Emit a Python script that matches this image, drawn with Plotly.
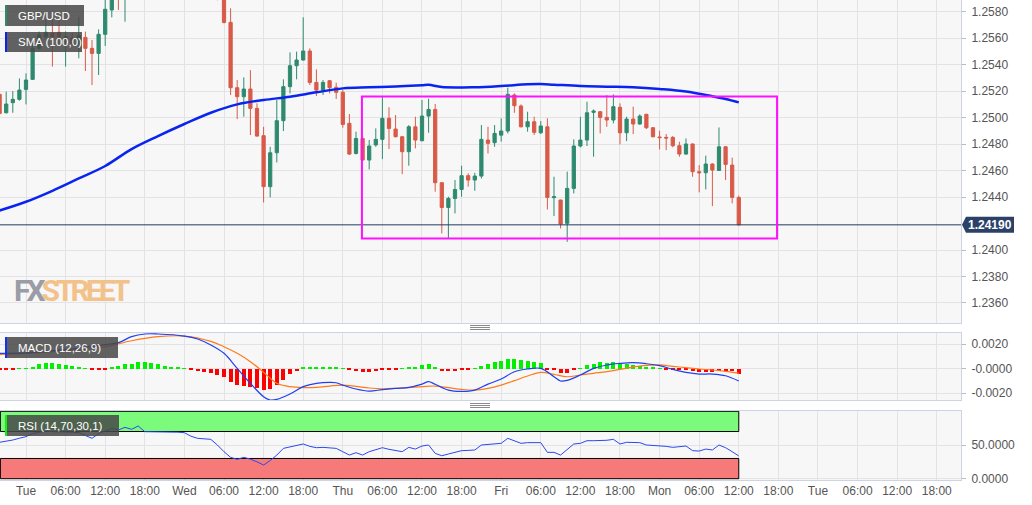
import plotly.graph_objects as go

# ---------------- data ----------------
hours = list(range(-4, 109))  # hourly candles; Tue 00:00 = 0, weekend removed (Mon 00:00 = 96)

opens = [1.25175, 1.25036, 1.25112, 1.25137, 1.25212, 1.25288, 1.25522, 1.25610, 1.25635, 1.25643,
         1.25600, 1.25600, 1.25560, 1.25605, 1.25522, 1.25484, 1.25628, 1.25812, 1.26000, 1.25920,
         1.26000, 1.26030, 1.26100, 1.26040, 1.26060, 1.26030, 1.26050, 1.26020, 1.26040, 1.26010,
         1.25970, 1.25990, 1.25960, 1.25940, 1.25915, 1.25718, 1.25225, 1.25157, 1.25215, 1.25069,
         1.24863, 1.24478, 1.24734, 1.24976, 1.25233, 1.25391, 1.25434, 1.25502, 1.25265, 1.25207,
         1.25278, 1.25228, 1.25190, 1.24956, 1.24729, 1.24842, 1.24679, 1.24793, 1.24835, 1.24994,
         1.24913, 1.24855, 1.24742, 1.24930, 1.24825, 1.25011, 1.25061, 1.24508, 1.24321, 1.24389,
         1.24457, 1.24561, 1.24528, 1.24558, 1.24830, 1.24810, 1.24867, 1.24898, 1.25170, 1.25087,
         1.24930, 1.24968, 1.24885, 1.24930, 1.24395, 1.24377, 1.24201, 1.24465, 1.24785, 1.24830,
         1.25039, 1.25044, 1.25001, 1.24981, 1.25077, 1.24885, 1.24988, 1.24951, 1.25024, 1.24923,
         1.24853, 1.24850, 1.24850, 1.24787, 1.24724, 1.24800, 1.24591, 1.24583, 1.24649, 1.24600,
         1.24779, 1.24641, 1.24397]
highs = [1.25182, 1.25195, 1.25200, 1.25295, 1.25333, 1.25565, 1.25648, 1.25736, 1.25741, 1.25736,
         1.25650, 1.25640, 1.25761, 1.25648, 1.25585, 1.25665, 1.25900, 1.25980, 1.26040, 1.26040,
         1.26060, 1.26120, 1.26150, 1.26090, 1.26110, 1.26080, 1.26100, 1.26070, 1.26090, 1.26040,
         1.26020, 1.26030, 1.26000, 1.25980, 1.25960, 1.25824, 1.25283, 1.25303, 1.25358, 1.25107,
         1.24930, 1.24779, 1.25132, 1.25288, 1.25492, 1.25497, 1.25756, 1.25522, 1.25363, 1.25283,
         1.25283, 1.25263, 1.25207, 1.25026, 1.24893, 1.24860, 1.24830, 1.24918, 1.25157, 1.25077,
         1.25019, 1.24860, 1.24943, 1.25006, 1.25132, 1.25142, 1.25102, 1.24510, 1.24402, 1.24528,
         1.24636, 1.24578, 1.24583, 1.24943, 1.24930, 1.24943, 1.24994, 1.25225, 1.25182, 1.25099,
         1.25044, 1.25006, 1.24973, 1.24994, 1.24553, 1.24380, 1.24591, 1.24835, 1.25006, 1.25119,
         1.25061, 1.25049, 1.25170, 1.25175, 1.25107, 1.25006, 1.25082, 1.25024, 1.25028, 1.24926,
         1.24900, 1.24875, 1.24860, 1.24817, 1.24842, 1.24805, 1.24641, 1.24712, 1.24654, 1.24925,
         1.24785, 1.24697, 1.24410]
lows = [1.25019, 1.25031, 1.25036, 1.25127, 1.25099, 1.25283, 1.25510, 1.25598, 1.25384, 1.25535,
        1.25384, 1.25540, 1.25447, 1.25351, 1.25245, 1.25321, 1.25540, 1.25756, 1.25812, 1.25723,
        1.25960, 1.26000, 1.26010, 1.25980, 1.26010, 1.25990, 1.26000, 1.25980, 1.26000, 1.25940,
        1.25930, 1.25930, 1.25920, 1.25885, 1.25710, 1.25170, 1.24988, 1.25006, 1.24868, 1.24855,
        1.24359, 1.24397, 1.24661, 1.24898, 1.25182, 1.25288, 1.25430, 1.25245, 1.25162, 1.25170,
        1.25182, 1.25140, 1.24923, 1.24717, 1.24721, 1.24671, 1.24608, 1.24779, 1.24686, 1.24762,
        1.24850, 1.24573, 1.24636, 1.24767, 1.24820, 1.24885, 1.24440, 1.24125, 1.24087, 1.24276,
        1.24402, 1.24478, 1.24447, 1.24540, 1.24729, 1.24779, 1.24818, 1.24880, 1.25036, 1.24925,
        1.24893, 1.24868, 1.24875, 1.24306, 1.24256, 1.24163, 1.24062, 1.24427, 1.24775, 1.24785,
        1.24704, 1.24880, 1.24930, 1.24956, 1.24797, 1.24822, 1.24875, 1.24945, 1.24913, 1.24850,
        1.24759, 1.24754, 1.24775, 1.24704, 1.24720, 1.24553, 1.24435, 1.24457, 1.24331, 1.24598,
        1.24528, 1.24352, 1.24185]
closes = [1.25031, 1.25102, 1.25137, 1.25207, 1.25283, 1.25522, 1.25623, 1.25643, 1.25610, 1.25610,
          1.25610, 1.25560, 1.25620, 1.25522, 1.25484, 1.25628, 1.25817, 1.25950, 1.25920, 1.26000,
          1.26030, 1.26100, 1.26040, 1.26060, 1.26030, 1.26050, 1.26020, 1.26040, 1.26010, 1.25970,
          1.25990, 1.25960, 1.25940, 1.25915, 1.25718, 1.25225, 1.25157, 1.25215, 1.25069, 1.24860,
          1.24478, 1.24734, 1.24976, 1.25233, 1.25391, 1.25434, 1.25502, 1.25265, 1.25207, 1.25265,
          1.25225, 1.25190, 1.24948, 1.24724, 1.24842, 1.24679, 1.24785, 1.24835, 1.24994, 1.24918,
          1.24855, 1.24742, 1.24930, 1.24830, 1.25011, 1.25061, 1.24508, 1.24321, 1.24389, 1.24457,
          1.24561, 1.24528, 1.24558, 1.24835, 1.24805, 1.24880, 1.24898, 1.25175, 1.25089, 1.24930,
          1.24968, 1.24888, 1.24936, 1.24397, 1.24402, 1.24196, 1.24465, 1.24785, 1.24830, 1.25036,
          1.25049, 1.25001, 1.24981, 1.25082, 1.24885, 1.24988, 1.24951, 1.25011, 1.24923, 1.24855,
          1.24848, 1.24845, 1.24787, 1.24724, 1.24800, 1.24591, 1.24583, 1.24649, 1.24603, 1.24779,
          1.24646, 1.24397, 1.24190]

sma_hours = [-4, 0, 4, 8, 12, 16, 20, 24, 28, 32, 36, 40, 44, 48, 52, 56, 60, 61, 63, 68,
             72, 76, 78, 80, 84, 88, 92, 96, 100, 104, 106, 108]
sma_values = [1.24298, 1.24364, 1.24447, 1.24540, 1.24634, 1.24762, 1.24860, 1.24951, 1.25036, 1.25099,
              1.25132, 1.25157, 1.25190, 1.25220, 1.25228, 1.25235, 1.25244, 1.25247, 1.25230, 1.25229,
              1.25238, 1.25251, 1.25253, 1.25248, 1.25238, 1.25233, 1.25228, 1.25215, 1.25196, 1.25160,
              1.25140, 1.25114]

last_price = 1.24190
box_hours = [50.9, 113.8]
box_prices = [1.24087, 1.25158]

macd_hours = [-4, 0, 4, 8, 12, 14, 16, 18, 20, 24, 26, 28, 30, 32, 34, 36, 37, 38, 40, 42,
              44, 46, 47, 48, 50, 52, 54, 56, 58, 60, 61, 62, 64, 66, 68, 70, 72, 74, 76, 78,
              80, 81, 82, 84, 86, 88, 90, 92, 94, 96, 98, 100, 102, 104, 106, 108]
macd_values = [0.00124, 0.00127, 0.00146, 0.00167, 0.00195, 0.00211, 0.00260, 0.00282, 0.00282, 0.00265,
               0.00241, 0.00192, 0.00124, 0.00001, -0.00121, -0.00230, -0.00257, -0.00252, -0.00208, -0.00148,
               -0.00121, -0.00113, -0.00116, -0.00135, -0.00167, -0.00184, -0.00172, -0.00162, -0.00154, -0.00127,
               -0.00107, -0.00129, -0.00176, -0.00186, -0.00176, -0.00127, -0.00086, -0.00026, -0.00004, 0.00001,
               -0.00067, -0.00102, -0.00097, -0.00053, 0.00001, 0.00029, 0.00042, 0.00048, 0.00039, 0.00023,
               -0.00007, -0.00031, -0.00045, -0.00045, -0.00059, -0.00102]
signal_hours = [-4, 0, 4, 8, 12, 16, 20, 24, 28, 30, 32, 34, 36, 38, 40, 42, 44, 46, 48, 50,
                52, 54, 56, 58, 60, 62, 64, 66, 68, 70, 72, 74, 76, 78, 80, 82, 84, 86, 88, 90,
                92, 94, 96, 98, 100, 102, 104, 106, 108]
signal_values = [0.00116, 0.00124, 0.00137, 0.00151, 0.00178, 0.00227, 0.00260, 0.00265, 0.00222, 0.00178,
                 0.00124, 0.00056, -0.00030, -0.00121, -0.00148, -0.00156, -0.00154, -0.00143, -0.00135, -0.00146,
                 -0.00159, -0.00165, -0.00162, -0.00156, -0.00148, -0.00143, -0.00156, -0.00170, -0.00176, -0.00162,
                 -0.00135, -0.00099, -0.00061, -0.00031, -0.00048, -0.00067, -0.00053, -0.00039, -0.00026, -0.00007,
                 0.00012, 0.00026, 0.00029, 0.00018, 0.00007, -0.00004, -0.00012, -0.00023, -0.00039]
hist_values = [-0.00004, -0.00004, -0.00004, 0.00004, 0.00004, 0.00015, 0.00034, 0.00042, 0.00042, 0.00034,
               0.00029, 0.00020, 0.00012, 0.00004, -0.00004, -0.00004, -0.00004, 0.00015, 0.00023, 0.00034,
               0.00039, 0.00056, 0.00050, 0.00042, 0.00034, 0.00023, 0.00015, 0.00007, 0.00002, -0.00012,
               -0.00020, -0.00031, -0.00039, -0.00053, -0.00067, -0.00107, -0.00135, -0.00143, -0.00148, -0.00162,
               -0.00176, -0.00167, -0.00135, -0.00094, -0.00048, -0.00018, 0.00012, 0.00015, 0.00015, 0.00015,
               0.00015, 0.00012, 0.00004, -0.00012, -0.00020, -0.00026, -0.00026, -0.00020, -0.00007, -0.00004,
               -0.00004, 0.00004, 0.00015, 0.00015, 0.00029, 0.00039, 0.00007, -0.00018, -0.00020, -0.00018,
               -0.00007, -0.00004, 0.00004, 0.00020, 0.00034, 0.00050, 0.00058, 0.00075, 0.00080, 0.00069,
               0.00061, 0.00053, 0.00042, -0.00004, -0.00012, -0.00039, -0.00034, -0.00007, 0.00004, 0.00029,
               0.00039, 0.00050, 0.00048, 0.00050, 0.00042, 0.00034, 0.00029, 0.00023, 0.00015, 0.00007,
               0.00002, -0.00004, -0.00007, -0.00012, -0.00012, -0.00018, -0.00026, -0.00026, -0.00026, -0.00023,
               -0.00020, -0.00018, -0.00045]

rsi_values = [54.0, 55.5, 57.4, 60.0, 62.4, 67.0, 69.0, 70.7, 69.8, 69.8,
              69.8, 69.0, 68.3, 64.0, 59.9, 67.0, 71.0, 74.7, 72.3, 76.2,
              73.3, 78.2, 69.8, 69.8, 69.8, 69.8, 69.5, 69.0, 68.3, 63.0,
              59.9, 59.5, 58.4, 50.0, 40.0, 31.7, 28.7, 31.7, 29.0, 25.0,
              20.3, 27.0, 35.0, 45.0, 47.5, 49.5, 51.5, 48.0, 46.0, 46.5,
              46.0, 45.0, 40.0, 35.1, 38.6, 35.1, 40.1, 43.0, 46.0, 43.6,
              42.0, 40.1, 46.5, 44.0, 48.5, 50.0, 37.6, 34.1, 36.6, 39.0,
              41.6, 42.0, 42.6, 50.0, 50.5, 51.5, 52.5, 59.9, 56.4, 52.5,
              53.5, 53.5, 53.5, 39.1, 39.1, 35.1, 43.0, 51.5, 52.5, 56.4,
              56.4, 56.4, 57.0, 58.4, 51.5, 54.0, 53.8, 53.5, 50.0, 49.5,
              49.0, 48.0, 46.5, 47.5, 48.5, 41.6, 41.0, 44.0, 42.6, 50.0,
              46.0, 40.1, 33.7]
rsi_upper, rsi_lower = 70, 30

tick_hours = list(range(0, 139, 6))
tick_labels = ["Tue", "06:00", "12:00", "18:00", "Wed", "06:00", "12:00", "18:00",
               "Thu", "06:00", "12:00", "18:00", "Fri", "06:00", "12:00", "18:00",
               "Mon", "06:00", "12:00", "18:00", "Tue", "06:00", "12:00", "18:00"]

price_ticks = [1.2360, 1.2380, 1.2400, 1.2440, 1.2460, 1.2480, 1.2500, 1.2520, 1.2540, 1.2560, 1.2580]
macd_ticks = [-0.0020, 0.0, 0.0020]
macd_tick_labels = ["-0.0020", "-0.0000", "0.0020"]
rsi_ticks = [0, 50]
rsi_tick_labels = ["0.0000", "50.0000"]

# ---------------- layout geometry (pixels of the plot area) ----------------
PW, PH = 961, 480
def px(x):
    return x / PW
def py(y):
    return 1 - y / PH

X_RANGE = [-3.94, 141.67]
MAIN_RANGE = [1.23449, 1.25887]
MACD_RANGE = [-0.00257, 0.0029]
RSI_RANGE = [-1.93, 101.2]
dom_main = [py(323), 1.0]
dom_macd = [py(400), py(333)]
dom_rsi = [0.0, py(410.5)]

GREEN = "#2e8a6e"
RED = "#d85a48"
GRID = "#e3e3e6"
BORDER = "#cdd3e2"
TICKC = "#555555"
FONT = "Liberation Sans, Arial, sans-serif"

fig = go.Figure()

fig.add_trace(go.Candlestick(
    x=hours, open=opens, high=highs, low=lows, close=closes,
    increasing=dict(line=dict(color=GREEN, width=1), fillcolor=GREEN),
    decreasing=dict(line=dict(color=RED, width=1), fillcolor=RED),
    whiskerwidth=0, showlegend=False, hoverinfo="skip", xaxis="x", yaxis="y"))

fig.add_trace(go.Scatter(x=sma_hours, y=sma_values, mode="lines", line=dict(color="#0a24f0", width=2.5, shape="spline"),
                         showlegend=False, hoverinfo="skip", xaxis="x", yaxis="y"))

fig.add_trace(go.Bar(x=hours, y=hist_values, width=0.62,
                     marker=dict(color=["#00f000" if v >= 0 else "#ff0000" for v in hist_values], line=dict(width=0)),
                     showlegend=False, hoverinfo="skip", xaxis="x2", yaxis="y2"))
fig.add_trace(go.Scatter(x=signal_hours, y=signal_values, mode="lines", line=dict(color="#ff7a1a", width=1.2, shape="spline"),
                         showlegend=False, hoverinfo="skip", xaxis="x2", yaxis="y2"))
fig.add_trace(go.Scatter(x=macd_hours, y=macd_values, mode="lines", line=dict(color="#2040f0", width=1.2, shape="spline"),
                         showlegend=False, hoverinfo="skip", xaxis="x2", yaxis="y2"))

fig.add_trace(go.Scatter(x=hours, y=rsi_values, mode="lines", line=dict(color="#2a48f0", width=1),
                         showlegend=False, hoverinfo="skip", xaxis="x3", yaxis="y3"))

axis_common = dict(showgrid=True, gridcolor=GRID, gridwidth=1, zeroline=False,
                   showline=True, linecolor=BORDER, linewidth=1, mirror=True)
xcommon = dict(axis_common, range=X_RANGE, tickvals=tick_hours, ticktext=tick_labels, domain=[0, 1])
ycommon = dict(axis_common, side="right", ticks="outside", ticklen=4, tickcolor="#bbbbbb",
               ticklabelstandoff=3,
               tickfont=dict(family=FONT, size=12, color=TICKC))

fig.update_layout(
    width=1032, height=505,
    margin=dict(l=0, r=1032 - PW, t=0, b=505 - PH),
    paper_bgcolor="white", plot_bgcolor="#f7f7f7",
    showlegend=False, bargap=0,
    xaxis=dict(xcommon, anchor="y", showticklabels=False, rangeslider=dict(visible=False)),
    xaxis2=dict(xcommon, anchor="y2", showticklabels=False),
    xaxis3=dict(xcommon, anchor="y3", showticklabels=True, ticks="",
                tickfont=dict(family=FONT, size=12, color=TICKC)),
    yaxis=dict(ycommon, domain=dom_main, range=MAIN_RANGE, tickvals=price_ticks,
               ticktext=["%.4f" % t for t in price_ticks], anchor="x"),
    yaxis2=dict(ycommon, domain=dom_macd, range=MACD_RANGE, tickvals=macd_ticks,
                ticktext=macd_tick_labels, anchor="x2"),
    yaxis3=dict(ycommon, domain=dom_rsi, range=RSI_RANGE, tickvals=rsi_ticks,
                ticktext=rsi_tick_labels, anchor="x3"),
)

shapes = []
annotations = []

# RSI bands
shapes.append(dict(type="rect", xref="x3", yref="y3", x0=X_RANGE[0] + 0.06, x1=hours[-1], y0=rsi_upper, y1=100,
                   fillcolor="#7cfa7c", line=dict(color="black", width=1), layer="between"))
shapes.append(dict(type="rect", xref="x3", yref="y3", x0=X_RANGE[0] + 0.06, x1=hours[-1], y0=0, y1=rsi_lower,
                   fillcolor="#f77a7a", line=dict(color="black", width=1), layer="between"))

# last price line
shapes.append(dict(type="line", xref="x domain", yref="y", x0=0, x1=1, y0=last_price, y1=last_price,
                   line=dict(color="#243a5e", width=1), layer="above"))
# range box
shapes.append(dict(type="rect", xref="x", yref="y", x0=box_hours[0], x1=box_hours[1], y0=box_prices[0], y1=box_prices[1],
                   line=dict(color="#ff10ff", width=2), fillcolor="rgba(0,0,0,0)", layer="above"))

# price tag on right axis
lp_paper = dom_main[0] + (last_price - MAIN_RANGE[0]) / (MAIN_RANGE[1] - MAIN_RANGE[0]) * (dom_main[1] - dom_main[0])
tag_h = 16 / PH
shapes.append(dict(type="path", xref="paper", yref="paper",
                   path="M %f %f L %f %f L %f %f L %f %f L %f %f Z" % (
                       px(962), lp_paper, px(966), lp_paper + tag_h / 2, px(1014), lp_paper + tag_h / 2,
                       px(1014), lp_paper - tag_h / 2, px(966), lp_paper - tag_h / 2),
                   fillcolor="#2b4168", line=dict(width=0), layer="above"))
annotations.append(dict(xref="paper", yref="paper", x=px(990), y=lp_paper, text="<b>%.5f</b>" % last_price,
                        showarrow=False, xanchor="center", yanchor="middle",
                        font=dict(family=FONT, size=12, color="white")))

# indicator label boxes
def label_box(x0, x1, y0, y1, bar_color, text):
    shapes.append(dict(type="rect", xref="paper", yref="paper", x0=px(x0), x1=px(x1), y0=py(y1), y1=py(y0),
                       fillcolor="rgba(72,72,72,0.86)", line=dict(width=0), layer="above"))
    shapes.append(dict(type="rect", xref="paper", yref="paper", x0=px(x0), x1=px(x0 + 2), y0=py(y1), y1=py(y0),
                       fillcolor=bar_color, line=dict(width=0), layer="above"))
    annotations.append(dict(xref="paper", yref="paper", x=px(x0 + 11), y=py((y0 + y1) / 2), text=text,
                            showarrow=False, xanchor="left", yanchor="middle",
                            font=dict(family=FONT, size=11.5, color="white")))

label_box(5, 84, 5, 26, "#2e8a6e", "GBP/USD")
label_box(5, 82, 32, 52, "#0a24f0", "SMA (100,0)")
label_box(5, 118, 337, 358, "#1030ff", "MACD (12,26,9)")
label_box(5, 119, 415, 436, "#10f010", "RSI (14,70,30,1)")

# panel resize handles
for yc in (327.5, 405.5):
    for dy in (-2, 0, 2):
        shapes.append(dict(type="line", xref="paper", yref="paper", x0=px(470), x1=px(490),
                           y0=py(yc + dy), y1=py(yc + dy), line=dict(color="#8a8a8a", width=1)))

# watermark
annotations.append(dict(xref="paper", yref="paper", x=px(12), y=py(290), xanchor="left", yanchor="middle",
                        text="<b><span style='color:#9a9ca6;letter-spacing:-4px'>FX</span>"
                             "<span style='color:#f2c28a;letter-spacing:-4px'>STREET</span></b>",
                        showarrow=False,
                        font=dict(family="Roboto, Liberation Sans, sans-serif", size=30)))

fig.update_layout(shapes=shapes, annotations=annotations)
fig.write_html("out.html")
